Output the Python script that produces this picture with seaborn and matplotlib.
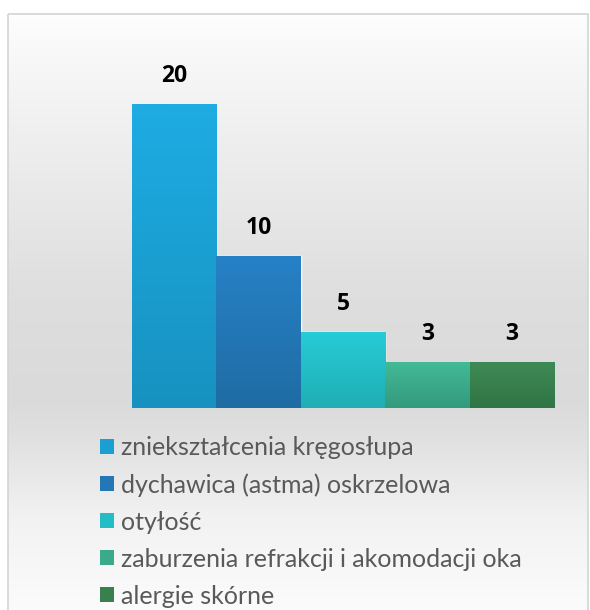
import numpy as np
import pandas as pd
import seaborn as sns
import matplotlib.pyplot as plt
from matplotlib.colors import to_rgb
from matplotlib.patches import Rectangle, Patch

sns.set_style('white')
plt.rcParams['font.family'] = ['Lato', 'DejaVu Sans']

# data
categories = ['zniekształcenia kręgosłupa', 'dychawica (astma) oskrzelowa', 'otyłość',
              'zaburzenia refrakcji i akomodacji oka', 'alergie skórne']
counts = [20, 10, 5, 3, 3]
top_colors = ['#1eace3', '#2781c6', '#27ccd6', '#43ba96', '#3e8a55']
bottom_colors = ['#1792c0', '#1f6ca4', '#20aeb4', '#339a7e', '#317545']

df = pd.DataFrame({'kategoria': categories, 'liczba': counts})

fig = plt.figure(figsize=(5.9, 6.1), dpi=100)

# background panel with vertical grey gradient
bg = fig.add_axes([0, 0, 1, 1], zorder=0)
bg.set_xlim(0, 590)
bg.set_ylim(610, 0)
bg.axis('off')
ys = np.array([13, 60, 150, 300, 400, 440, 520, 610])
vals = np.array([0.995, 0.97, 0.93, 0.87, 0.855, 0.88, 0.95, 0.985])
grad = np.interp(np.arange(13, 611), ys, vals)[:, None]
bg.imshow(np.repeat(grad, 3, axis=1)[:, :, None] * np.ones((1, 1, 3)),
          extent=(8, 588, 610, 13), aspect='auto', interpolation='bilinear')
bg.add_patch(Rectangle((7.5, 13.5), 580, 600, fill=False, ec='#d4d4d4', lw=1.2))

ax = fig.add_axes([132 / 590, 1 - 408 / 610, (554 - 132) / 590, 348.5 / 610], zorder=1)
ax.patch.set_alpha(0)
sns.barplot(data=df, x='kategoria', y='liczba', hue='kategoria', palette=top_colors,
            width=1.0, dodge=False, legend=False, ax=ax, saturation=1)

# gradient fill on each bar
for p, c1, c2 in zip(ax.patches, top_colors, bottom_colors):
    x0, y0 = p.get_x(), p.get_y()
    w, h = p.get_width(), p.get_height()
    t = np.linspace(0, 1, 100)[:, None]
    img = (1 - t) * np.array(to_rgb(c1)) + t * np.array(to_rgb(c2))
    ax.imshow(img[:, None, :] * np.ones((1, 2, 1)), extent=(x0, x0 + w, y0, y0 + h),
              aspect='auto', interpolation='bilinear', zorder=2)
ax.set_xlim(-0.5, 4.5)
ax.set_ylim(0, 23)

for cont in ax.containers:
    ax.bar_label(cont, padding=12, fontsize=16.5, fontweight='bold', color='black',
                 family=['Open Sans', 'DejaVu Sans'])

ax.axis('off')

mid_colors = [tuple((np.array(to_rgb(a)) + np.array(to_rgb(b))) / 2)
              for a, b in zip(top_colors, bottom_colors)]
handles = [Patch(facecolor=c, edgecolor='none') for c in mid_colors]
fig.legend(handles, categories, loc='upper left', bbox_to_anchor=(90 / 590, 1 - 426 / 610),
           frameon=False, fontsize=18, labelcolor='#595959', handlelength=0.55,
           handleheight=0.55, handletextpad=0.3, labelspacing=0.56, borderaxespad=0)

fig.savefig('out.png', dpi=100)
